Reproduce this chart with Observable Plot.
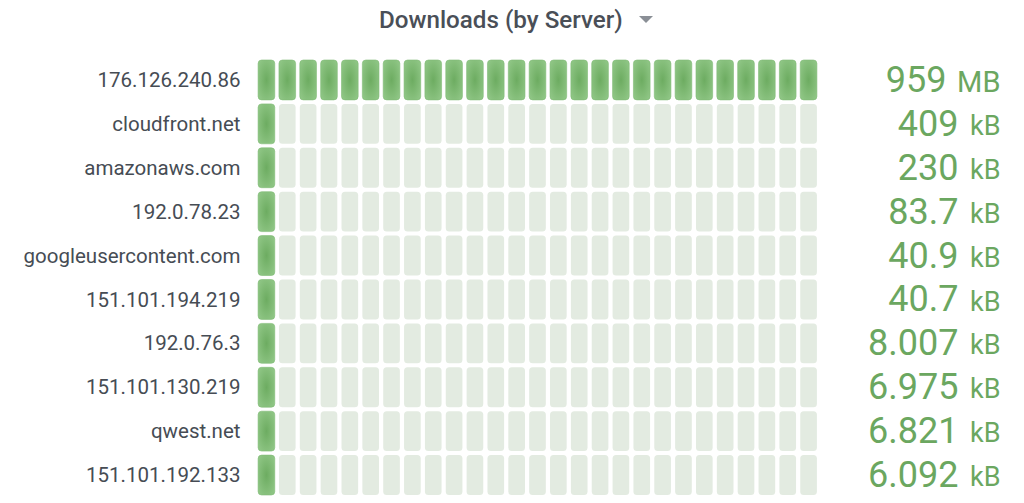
<!DOCTYPE html>
<html>
<head>
<meta charset="utf-8">
<script src="https://cdn.jsdelivr.net/npm/d3@7"></script>
<script src="https://cdn.jsdelivr.net/npm/@observablehq/plot@0.6"></script>
<style>
  html, body { margin: 0; padding: 0; background: #fff; width: 1024px; height: 503px; overflow: hidden; font-family: Roboto, "Noto Sans", sans-serif; }
  #title { position: relative; height: 45px; }
  #title .t { position: absolute; left: 379px; top: 6px; font-size: 24.2px; font-weight: 500; color: #4a4f57; white-space: nowrap; }
  #title .c { position: absolute; left: 639px; top: 16px; width: 0; height: 0; border-left: 7px solid transparent; border-right: 7px solid transparent; border-top: 7px solid #8a8f96; }
</style>
</head>
<body>
<svg width="0" height="0" style="position:absolute">
  <defs>
    <radialGradient id="lcdOn" cx="0.5" cy="0.5" r="0.6">
      <stop offset="0" stop-color="#6dac61"/>
      <stop offset="1" stop-color="#8ec584"/>
    </radialGradient>
  </defs>
</svg>
<div id="title"><span class="t">Downloads (by Server)</span><span class="c"></span></div>
<div id="chart"></div>
<script>
const servers = ["176.126.240.86", "cloudfront.net", "amazonaws.com", "192.0.78.23", "googleusercontent.com", "151.101.194.219", "192.0.76.3", "151.101.130.219", "qwest.net", "151.101.192.133"];
const valueBytes = [959e6, 409e3, 230e3, 83.7e3, 40.9e3, 40.7e3, 8007, 6975, 6821, 6092];
const valueNumbers = ["959", "409", "230", "83.7", "40.9", "40.7", "8.007", "6.975", "6.821", "6.092"];
const valueUnits = ["MB", "kB", "kB", "kB", "kB", "kB", "kB", "kB", "kB", "kB"];
const cellCount = 27;
const maxBytes = 959e6;

const rows = servers.map((s, i) => ({server: s, bytes: valueBytes[i], num: valueNumbers[i], unit: valueUnits[i]}));
const cells = [];
for (const r of rows) {
  const lit = Math.max(1, Math.round(r.bytes / maxBytes * cellCount));
  for (let k = 0; k < cellCount; k++) cells.push({server: r.server, k, lit: k < lit});
}

const chart = Plot.plot({
  width: 1024,
  height: 458,
  marginLeft: 256,
  marginRight: 205,
  marginTop: 13,
  marginBottom: 6,
  x: {type: "band", domain: d3.range(cellCount), padding: 0, round: false, axis: null},
  y: {type: "band", domain: servers, padding: 0, round: false, axis: null},
  style: {fontFamily: "Roboto, sans-serif", background: "transparent"},
  marks: [
    Plot.cell(cells.filter(d => !d.lit), {x: "k", y: "server", fill: "#e3ebe1", inset: 2.1, insetTop: 2, insetBottom: 2, rx: 3.5}),
    Plot.cell(cells.filter(d => d.lit), {x: "k", y: "server", fill: "url(#lcdOn)", stroke: "#80ba76", strokeWidth: 0.6, inset: 2.1, insetTop: 2, insetBottom: 2, rx: 3.5}),
    Plot.text(rows, {y: "server", text: "server", frameAnchor: "left", dx: -16, textAnchor: "end", fontSize: 20.5, fill: "#464c54"}),
    Plot.text(rows.filter(d => d.unit === "kB"), {y: "server", text: "unit", frameAnchor: "right", dx: 181, textAnchor: "end", fontSize: 27, dy: 2, fill: "#6ba760"}),
    Plot.text(rows.filter(d => d.unit === "MB"), {y: "server", text: "unit", frameAnchor: "right", dx: 181, textAnchor: "end", fontSize: 29, dy: 2, fill: "#6ba760"}),
    Plot.text(rows.filter(d => d.unit === "kB"), {y: "server", text: "num", frameAnchor: "right", dx: 139, textAnchor: "end", fontSize: 36, fill: "#6ba760"}),
    Plot.text(rows.filter(d => d.unit === "MB"), {y: "server", text: "num", frameAnchor: "right", dx: 127, textAnchor: "end", fontSize: 36, fill: "#6ba760"})
  ]
});
document.getElementById("chart").appendChild(chart);
</script>
</body>
</html>
